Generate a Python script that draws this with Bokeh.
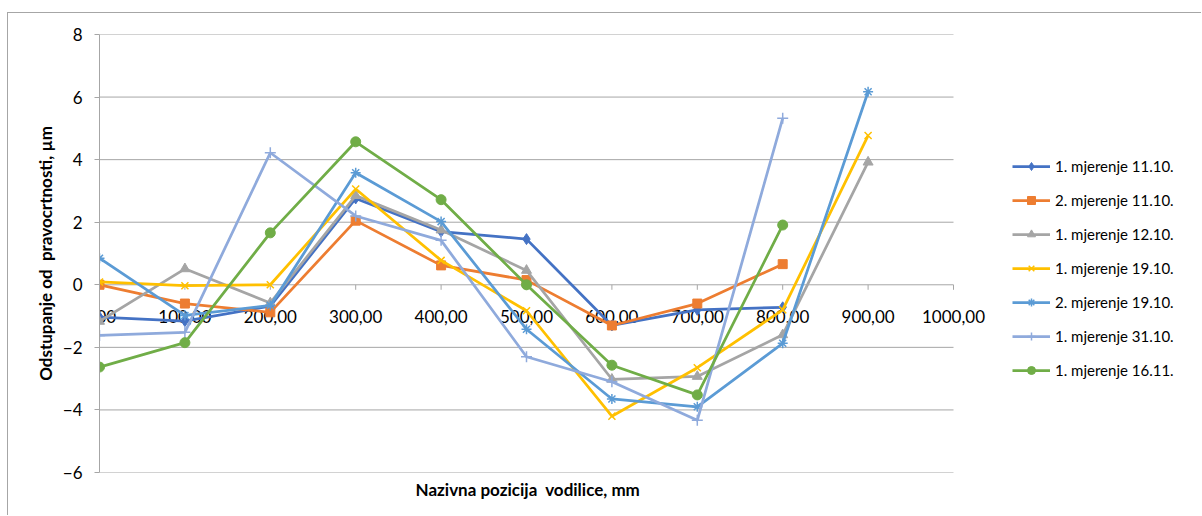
import math
from bokeh.plotting import figure
from bokeh.models import Legend, LegendItem, Title, FixedTicker, Range1d
from bokeh.embed import file_html
from bokeh.resources import INLINE
from bokeh.core.properties import value

# ---- data ----
positions = [0, 100, 200, 300, 400, 500, 600, 700, 800, 900]
x_ticks = [0, 100, 200, 300, 400, 500, 600, 700, 800, 900, 1000]
x_tick_labels = ["0,00", "100,00", "200,00", "300,00", "400,00", "500,00",
                 "600,00", "700,00", "800,00", "900,00", "1000,00"]
y_ticks = [-6, -4, -2, 0, 2, 4, 6, 8]

names = ["1. mjerenje 11.10.", "2. mjerenje 11.10.", "1. mjerenje 12.10.",
         "1. mjerenje 19.10.", "2. mjerenje 19.10.", "1. mjerenje 31.10.",
         "1. mjerenje 16.11."]
m1_1110 = [-1.03, -1.16, -0.68, 2.76, 1.70, 1.46, -1.30, -0.80, -0.72]
m2_1110 = [0.00, -0.60, -0.88, 2.05, 0.62, 0.15, -1.30, -0.60, 0.66]
m1_1210 = [-1.17, 0.51, -0.58, 2.85, 1.75, 0.46, -3.02, -2.93, -1.60, 3.92]
m1_1910 = [0.09, -0.03, 0.00, 3.06, 0.78, -0.83, -4.20, -2.65, -0.80, 4.77]
m2_1910 = [0.85, -0.98, -0.66, 3.58, 2.02, -1.42, -3.65, -3.90, -1.87, 6.17]
m1_3110 = [-1.62, -1.52, 4.22, 2.20, 1.42, -2.30, -3.10, -4.33, 5.32]
m1_1611 = [-2.63, -1.85, 1.66, 4.57, 2.72, 0.00, -2.57, -3.52, 1.91]
series = [m1_1110, m2_1110, m1_1210, m1_1910, m2_1910, m1_3110, m1_1611]

colors = ["#4472C4", "#ED7D31", "#A5A5A5", "#FFC000", "#5B9BD5", "#8FAADC", "#70AD47"]
markers = ["diamond", "square", "triangle", "x", "asterisk", "cross", "circle"]
sizes = [11, 9, 10, 10, 10, 11, 10]
filled = [True, True, True, False, False, False, True]

FONT = "Lato"
GRID = "#A6A6A6"

# layout (pixels)
W, H = 1194, 503
LEFT, TOP, BOTTOM = 91, 21, 44
AXIS_W = 854          # pixel width of the 0..1000 span
frame_w = W - LEFT
x_end = x_ticks[-1] * frame_w / AXIS_W
XTITLE_W = 222        # approx rendered width of the x title

p = figure(width=W, height=H, output_backend="svg", toolbar_location=None,
           x_range=Range1d(0, x_end), y_range=Range1d(y_ticks[0], y_ticks[-1]),
           x_axis_location=None, min_border_left=LEFT, min_border_right=0,
           min_border_top=TOP, min_border_bottom=BOTTOM)
p.outline_line_color = None
p.xgrid.visible = False
p.ygrid.visible = False
p.styles = {"border-left": "1px solid #A6A6A6", "border-top": "1px solid #A6A6A6",
            "margin-left": "7px", "margin-top": "12px"}

# horizontal gridlines limited to 0..1000
p.segment(x0=[x_ticks[0]] * len(y_ticks), x1=[x_ticks[-1]] * len(y_ticks),
          y0=y_ticks, y1=y_ticks, line_color=GRID, line_width=1)

ya = p.yaxis[0]
ya.ticker = FixedTicker(ticks=y_ticks)
ya.axis_line_color = GRID
ya.major_tick_line_color = GRID
ya.major_tick_out = 5
ya.major_tick_in = 0
ya.minor_tick_line_color = None
ya.major_label_standoff = 12
ya.major_label_text_font = FONT
ya.major_label_text_font_size = "17px"
ya.major_label_text_color = "#000000"
ya.axis_label = "Odstupanje od\u00a0 pravocrtnosti, µm"
ya.axis_label_text_font = FONT
ya.axis_label_text_font_size = "17px"
ya.axis_label_text_font_style = "bold"
ya.axis_label_text_color = "#000000"
ya.axis_label_standoff = 4

# x axis drawn at y = 0
p.ray(x=x_ticks, y=[0] * len(x_ticks), length=5, angle=-math.pi / 2,
      length_units="screen", line_color=GRID, line_width=1)
p.text(x=x_ticks, y=[0] * len(x_ticks), text=x_tick_labels, text_align="center",
       text_baseline="middle", y_offset=32, text_font=value(FONT),
       text_font_size="17px", text_color="#000000")

items = []
for name, ys, c, m, s, f in zip(names, series, colors, markers, sizes, filled):
    xs = positions[:len(ys)]
    r1 = p.line(xs, ys, line_color=c, line_width=2.75)
    r2 = p.scatter(xs, ys, marker=m, size=s, line_color=c,
                   fill_color=c if f else None, line_width=1.5 if not f else 1)
    items.append(LegendItem(label=name, renderers=[r1, r2]))

legend = Legend(items=items, location=(913, 92), orientation="vertical",
                glyph_width=38, glyph_height=20, label_height=20, spacing=14,
                padding=0, margin=0, label_standoff=5, border_line_color=None,
                background_fill_alpha=0,
                label_text_font=FONT, label_text_font_size="15px",
                label_text_color="#000000")
p.add_layout(legend)

p.add_layout(Title(text="Nazivna pozicija\u00a0 vodilice, mm", align="left",
                   offset=AXIS_W / 2 - XTITLE_W / 2,
                   text_font=FONT, text_font_size="17px", text_font_style="bold",
                   text_color="#000000", standoff=9), "below")

open("out.html", "w").write(file_html(p, INLINE))
